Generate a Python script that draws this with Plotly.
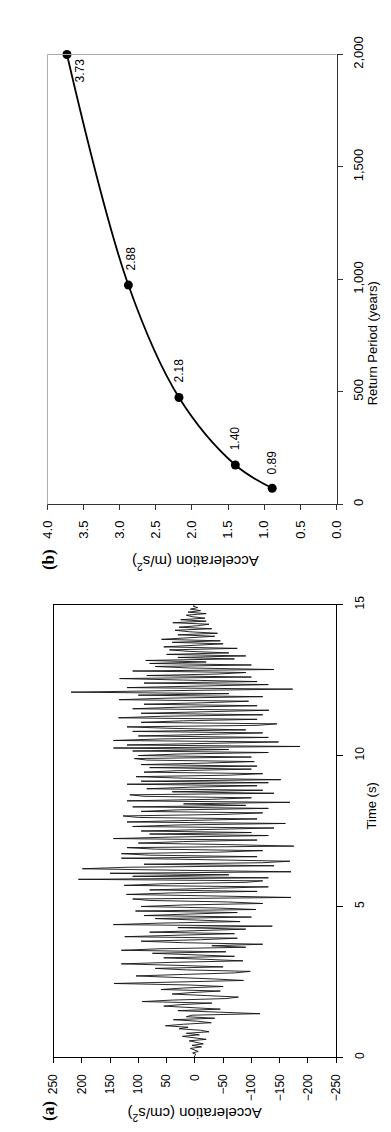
import plotly.graph_objects as go

# ---------------- Panel (a): acceleration time history ----------------
dt = 0.05
accel_a = [
    0, 1, -2, 4, -6, 3, 8, -12, 5, -15, -4, 10, -20, 6, 22, -8, 15, -25, -10, 28,
    12, 52, 20, -29, -5, 38, -35, 15, 5, -115, -40, 30, -45, 10, 55, 25, -30, 93, 40, -55,
    -77, -20, 40, 5, -45, 60, 20, -50, 10, 143, 30, -86, -35, 50, 104, 20, -70, -98, 15, 70,
    -50, 30, 130, 40, -85, -20, 55, -70, 10, 75, -55, 130, 60, -90, -30, -120, 20, 95, -10, -75,
    124, 45, -70, 80, -20, -90, 30, -137, 144, 60, -80, -15, 70, -100, 90, 10, -75, 105, -108, -40,
    95, 20, -120, -60, 80, 110, -170, -30, 121, 40, -110, 80, -20, -130, 125, 60, -90, -120, 206, -130,
    110, -60, 150, -170, 30, 199, 120, -140, 90, -120, -168, 20, 130, -110, 80, 130, -40, -120, 70, 120,
    -175, -60, 100, 20, -110, 144, 40, -130, 80, -100, 95, -20, -140, 110, 30, -160, 120, 10, -110, 100,
    127, -50, -120, 95, 30, -130, 110, -90, 20, -168, 120, -30, -100, 90, 115, -140, 40, -120, 85, 10,
    -110, 120, -130, 95, -152, 20, 104, -60, -120, 90, 30, -100, 80, -110, 95, -20, -105, 85, 107, -100,
    100, 30, -130, 110, -60, 144, -186, 120, -40, -148, 144, 60, -130, 100, -20, -120, 110, -90, 40, 120,
    -110, -145, 95, 20, -110, 135, 60, -120, 95, -40, -131, 110, 30, -110, 90, -20, -95, 134, 50, -120,
    100, -60, 219, 40, -173, 120, -30, -130, 90, -110, 20, 133, -100, 85, -40, -90, 110, -140, 10, 70,
    -100, 80, -20, 87, -70, 30, -90, 50, -60, 10, 45, -75, 55, -10, -50, 40, -45, 59, 20, -35,
    30, -40, 10, 35, -30, 28, -5, -25, 39, -20, 25, -18, 5, 15, -20, 12, -10, 8, -5, 3, 0,
]
time_a = [i * dt for i in range(len(accel_a))]

accel_ticks_a = [250, 200, 150, 100, 50, 0, -50, -100, -150, -200, -250]
accel_ticktext_a = ["250", "200", "150", "100", "50", "0", "\u221250", "\u2212100",
                    "\u2212150", "\u2212200", "\u2212250"]
time_ticks = [0, 5, 10, 15]

# ---------------- Panel (b): hazard curve ----------------
return_period = [72, 175, 475, 975, 2000]
accel_b = [0.89, 1.40, 2.18, 2.88, 3.73]
accel_b_labels = ["0.89", "1.40", "2.18", "2.88", "3.73"]
rp_ticks = [0, 500, 1000, 1500, 2000]
rp_ticktext = ["0", "500", "1,000", "1,500", "2,000"]
accel_ticks_b = [4.0, 3.5, 3.0, 2.5, 2.0, 1.5, 1.0, 0.5, 0.0]

W, H = 391, 1132
def px(x):
    return x / W
def py(y):
    return 1 - y / H

FONT = "Liberation Sans, Arial, Helvetica, sans-serif"

fig = go.Figure()

fig.add_trace(go.Scatter(x=accel_a, y=time_a, mode="lines",
                         line=dict(color="#111111", width=0.9),
                         xaxis="x", yaxis="y", showlegend=False))

fig.add_trace(go.Scatter(x=accel_b, y=return_period, mode="lines+markers",
                         line=dict(color="black", width=1.8, shape="spline"),
                         marker=dict(color="black", size=9),
                         xaxis="x2", yaxis="y2", showlegend=False, cliponaxis=False))

tickfont_a = dict(family=FONT, size=12, color="black")
tickfont_b = dict(family=FONT, size=13, color="black")

fig.update_layout(
    width=W, height=H, autosize=False,
    margin=dict(l=0, r=0, t=0, b=0),
    paper_bgcolor="white", plot_bgcolor="white",
    xaxis=dict(domain=[px(39), px(333)], range=[250, -250], anchor="y",
               tickmode="array", tickvals=accel_ticks_a, ticktext=accel_ticktext_a,
               tickangle=-90, tickfont=tickfont_a, ticks="outside", ticklen=5,
               tickcolor="black", showline=True, linecolor="black", linewidth=1,
               mirror=True, showgrid=False, zeroline=False, ticklabelstandoff=6),
    yaxis=dict(domain=[py(1050), py(589)], range=[0, 15], anchor="x", side="right",
               tickmode="array", tickvals=time_ticks, ticktext=[str(v) for v in time_ticks],
               tickangle=-90, tickfont=tickfont_a, ticks="outside", ticklen=6,
               tickcolor="black", showline=True, linecolor="black", linewidth=1,
               mirror=True, showgrid=False, zeroline=False, ticklabelstandoff=6),
    xaxis2=dict(domain=[px(32.7), px(333.3)], range=[4, 0], anchor="y2",
                tickmode="array", tickvals=accel_ticks_b,
                ticktext=["%.1f" % v for v in accel_ticks_b],
                tickangle=-90, tickfont=tickfont_b, ticks="outside", ticklen=5,
                tickcolor="#333", showline=True, linecolor="#333", linewidth=1,
                showgrid=False, zeroline=False, ticklabelstandoff=5),
    yaxis2=dict(domain=[py(487), py(29)], range=[0, 2000], anchor="x2", side="right",
                tickmode="array", tickvals=rp_ticks, ticktext=rp_ticktext,
                tickangle=-90, tickfont=tickfont_b, ticks="outside", ticklen=5,
                tickcolor="#333", showline=True, linecolor="#333", linewidth=1,
                showgrid=False, zeroline=False, ticklabelstandoff=5),
)

# light top and left frame lines for panel (b)
fig.add_shape(type="line", xref="paper", yref="paper",
              x0=px(32.7), x1=px(333.3), y0=py(29), y1=py(29),
              line=dict(color="#aaaaaa", width=1))
fig.add_shape(type="line", xref="paper", yref="paper",
              x0=px(32.7), x1=px(32.7), y0=py(29), y1=py(487),
              line=dict(color="#aaaaaa", width=1))

annots = []
# axis titles
annots.append(dict(text="Acceleration (cm/s<sup>2</sup>)", x=px(186), y=py(1120),
                   xref="paper", yref="paper", showarrow=False, textangle=180,
                   font=dict(family=FONT, size=15, color="black")))
annots.append(dict(text="Time (s)", x=px(380), y=py(819.5),
                   xref="paper", yref="paper", showarrow=False, textangle=-90,
                   font=dict(family=FONT, size=13, color="black")))
annots.append(dict(text="Acceleration (m/s<sup>2</sup>)", x=px(186), y=py(547),
                   xref="paper", yref="paper", showarrow=False, textangle=180,
                   font=dict(family=FONT, size=15, color="black")))
annots.append(dict(text="Return Period (years)", x=px(381), y=py(258),
                   xref="paper", yref="paper", showarrow=False, textangle=-90,
                   font=dict(family=FONT, size=13, color="black")))
# panel letters
annots.append(dict(text="<b>(a)</b>", x=px(22), y=py(1117),
                   xref="paper", yref="paper", showarrow=False, textangle=-90,
                   font=dict(family="Liberation Serif, Times New Roman, serif", size=17, color="black")))
annots.append(dict(text="<b>(b)</b>", x=px(22), y=py(543),
                   xref="paper", yref="paper", showarrow=False, textangle=-90,
                   font=dict(family="Liberation Serif, Times New Roman, serif", size=17, color="black")))
# data labels
shifts = [(0, 26), (0, 27), (0, 27), (3, 27), (14, -16)]
for xv, yv, lab, (xs, ys) in zip(accel_b, return_period, accel_b_labels, shifts):
    annots.append(dict(text=lab, x=xv, y=yv, xref="x2", yref="y2", showarrow=False,
                       textangle=-90, xshift=xs, yshift=ys,
                       font=dict(family=FONT, size=12, color="black")))
fig.update_layout(annotations=annots)

fig.write_html("out.html")
